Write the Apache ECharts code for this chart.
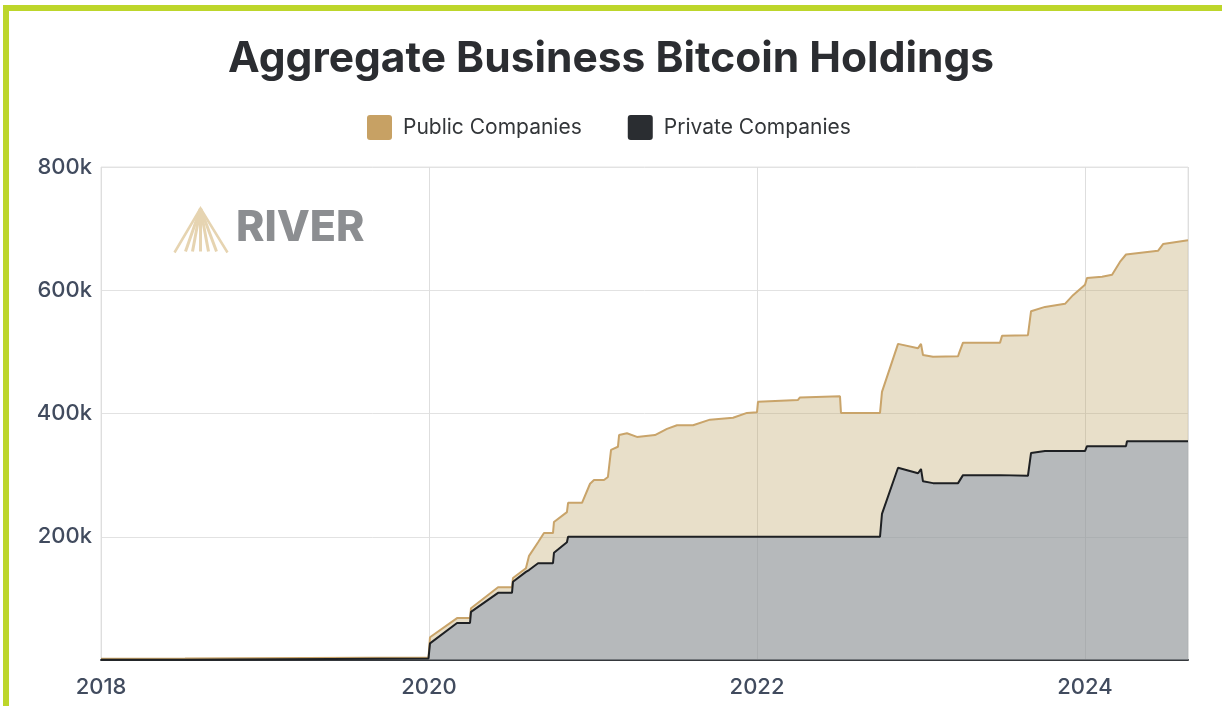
<!DOCTYPE html>
<html>
<head>
<meta charset="utf-8">
<title>Aggregate Business Bitcoin Holdings</title>
<script src="https://cdn.jsdelivr.net/npm/echarts@6/dist/echarts.min.js"></script>
<style>
  html, body { margin: 0; padding: 0; background: #fff; }
  #chart { width: 1222px; height: 706px; }
</style>
</head>
<body>
<div id="chart"></div>
<script>
// dates as decimal years
var years = [
  2018.000, 2018.512, 2018.518, 2019.997, 2020.006, 2020.171, 2020.250, 2020.256,
  2020.421, 2020.506, 2020.512, 2020.591, 2020.610, 2020.665, 2020.701, 2020.756,
  2020.762, 2020.841, 2020.848, 2020.933, 2020.982, 2021.006, 2021.067, 2021.091,
  2021.110, 2021.152, 2021.159, 2021.207, 2021.268, 2021.378, 2021.451, 2021.512,
  2021.610, 2021.713, 2021.854, 2021.939, 2022.000, 2022.006, 2022.250, 2022.262,
  2022.506, 2022.512, 2022.750, 2022.762, 2022.860, 2022.982, 2023.000, 2023.012,
  2023.073, 2023.226, 2023.232, 2023.256, 2023.482, 2023.494, 2023.652, 2023.671,
  2023.756, 2023.878, 2023.927, 2024.000, 2024.012, 2024.104, 2024.165, 2024.213,
  2024.250, 2024.256, 2024.445, 2024.476, 2024.628
];

// BTC held by private companies
var privateBtc = [
  500, 500, 2500, 2500, 27000, 60000, 60000, 78000,
  109000, 109000, 127000, 143000, 146000, 157000, 157000, 157000,
  174000, 191000, 200000, 200000, 200000, 200000, 200000, 200000,
  200000, 200000, 200000, 200000, 200000, 200000, 200000, 200000,
  200000, 200000, 200000, 200000, 200000, 200000, 200000, 200000,
  200000, 200000, 200000, 237000, 312000, 303000, 310000, 290000,
  287000, 287000, 287000, 300000, 300000, 300000, 299000, 336000,
  339000, 339000, 339000, 339000, 347000, 347000, 347000, 347000,
  347000, 355000, 355000, 355000, 355000
];

// public + private together (top edge of the public band)
var totalBtc = [
  2000, 2500, 4000, 4000, 37000, 68000, 68000, 84000,
  118000, 118000, 133000, 149000, 169000, 191000, 206000, 206000,
  224000, 240000, 255000, 255000, 286000, 292000, 292000, 297000,
  341000, 346000, 365000, 368000, 362000, 365000, 375000, 381000,
  381000, 390000, 393000, 401000, 402000, 419000, 422000, 426000,
  428000, 401000, 401000, 435000, 513000, 506000, 513000, 495000,
  492000, 493000, 498000, 515000, 515000, 526000, 527000, 566000,
  573000, 578000, 592000, 609000, 620000, 622000, 625000, 646000,
  658000, 660000, 664000, 675000, 681000
];

var yTicks = [0, 200000, 400000, 600000, 800000];
var xTicks = [2018, 2020, 2022, 2024];

var privateData = years.map(function (y, i) { return [y, privateBtc[i]]; });
var totalData = years.map(function (y, i) { return [y, totalBtc[i]]; });

var swatch = 'path://M3,0 H22 Q25,0 25,3 V22 Q25,25 22,25 H3 Q0,25 0,22 V3 Q0,0 3,0 Z';

var chart = echarts.init(document.getElementById('chart'));

var option = {
  backgroundColor: '#ffffff',
  animation: false,
  title: {
    text: 'Aggregate Business Bitcoin Holdings',
    left: 'center',
    top: 33,
    textStyle: {
      fontFamily: 'Inter',
      fontWeight: 700,
      fontSize: 42.5,
      color: '#2b2d31'
    }
  },
  legend: {
    top: 110,
    left: 362,
    itemWidth: 25,
    itemHeight: 25,
    itemGap: 46,
    textStyle: { fontFamily: 'Inter', fontSize: 21, color: '#333639', padding: [0, 0, 0, 6] },
    data: [
      { name: 'Public Companies', icon: swatch, itemStyle: { color: '#c7a164' } },
      { name: 'Private Companies', icon: swatch, itemStyle: { color: '#2a2d31' } }
    ]
  },
  grid: {
    left: 101,
    right: 34,
    top: 167,
    bottom: 46,
    show: true,
    borderColor: '#e4e4e4',
    borderWidth: 1
  },
  xAxis: {
    type: 'value',
    min: 2018,
    max: 2024.628,
    interval: 2,
    axisLine: { show: true, onZero: false, lineStyle: { color: '#35383c', width: 2 } },
    axisTick: { show: false },
    splitLine: { show: true, lineStyle: { color: '#dedede', width: 1 } },
    axisLabel: {
      fontFamily: 'Inter',
      fontSize: 22,
      fontWeight: 500,
      color: '#414b5e',
      margin: 16,
      showMaxLabel: false,
      formatter: function (v) { return xTicks.indexOf(v) >= 0 ? String(v) : ''; }
    }
  },
  yAxis: {
    type: 'value',
    min: 0,
    max: 800000,
    interval: 200000,
    axisLine: { show: false },
    axisTick: { show: false },
    splitLine: { lineStyle: { color: '#e2e2e2', width: 1 } },
    axisLabel: {
      fontFamily: 'Inter',
      fontSize: 22,
      fontWeight: 500,
      color: '#414b5e',
      margin: 9,
      formatter: function (v) {
        if (v === 0 || yTicks.indexOf(v) < 0) return '';
        return (v / 1000) + 'k';
      }
    }
  },
  graphic: [
    {
      type: 'group',
      left: 172,
      top: 206,
      children: [
        { type: 'polyline', shape: { points: [[0, 44], [26, 0], [53, 44]] }, style: { fill: null, stroke: '#e6d4b1', lineWidth: 2.5 } },
        { type: 'line', shape: { x1: 26, y1: 0, x2: 11, y2: 43 }, style: { stroke: '#e6d4b1', lineWidth: 3 } },
        { type: 'line', shape: { x1: 26, y1: 0, x2: 18, y2: 43 }, style: { stroke: '#e6d4b1', lineWidth: 3 } },
        { type: 'line', shape: { x1: 26, y1: 0, x2: 26, y2: 43 }, style: { stroke: '#e6d4b1', lineWidth: 3 } },
        { type: 'line', shape: { x1: 26, y1: 0, x2: 34, y2: 43 }, style: { stroke: '#e6d4b1', lineWidth: 3 } },
        { type: 'line', shape: { x1: 26, y1: 0, x2: 42, y2: 43 }, style: { stroke: '#e6d4b1', lineWidth: 3 } }
      ]
    },
    {
      type: 'text',
      left: 236,
      top: 207,
      style: {
        text: 'RIVER',
        fontFamily: 'Inter',
        fontWeight: 800,
        fontSize: 43,
        fill: '#8c8e91'
      }
    },
    {
      type: 'rect',
      left: 3,
      top: 5,
      shape: { width: 1219, height: 6 },
      style: { fill: '#bdd62b' }
    },
    {
      type: 'rect',
      left: 3,
      top: 5,
      shape: { width: 6, height: 701 },
      style: { fill: '#bdd62b' }
    }
  ],
  series: [
    {
      name: 'Public Companies',
      type: 'line',
      symbol: 'none',
      data: totalData,
      color: '#c7a164',
      lineStyle: { color: '#c9a46a', width: 2 },
      areaStyle: { color: 'rgba(189,164,101,0.35)', opacity: 1 },
      z: 2
    },
    {
      name: 'Private Companies',
      type: 'line',
      symbol: 'none',
      data: privateData,
      color: '#2a2d31',
      lineStyle: { color: '#1e2023', width: 2 },
      areaStyle: { color: 'rgba(132,147,173,0.5)', opacity: 1 },
      z: 3
    }
  ]
};

chart.setOption(option);
</script>
</body>
</html>
